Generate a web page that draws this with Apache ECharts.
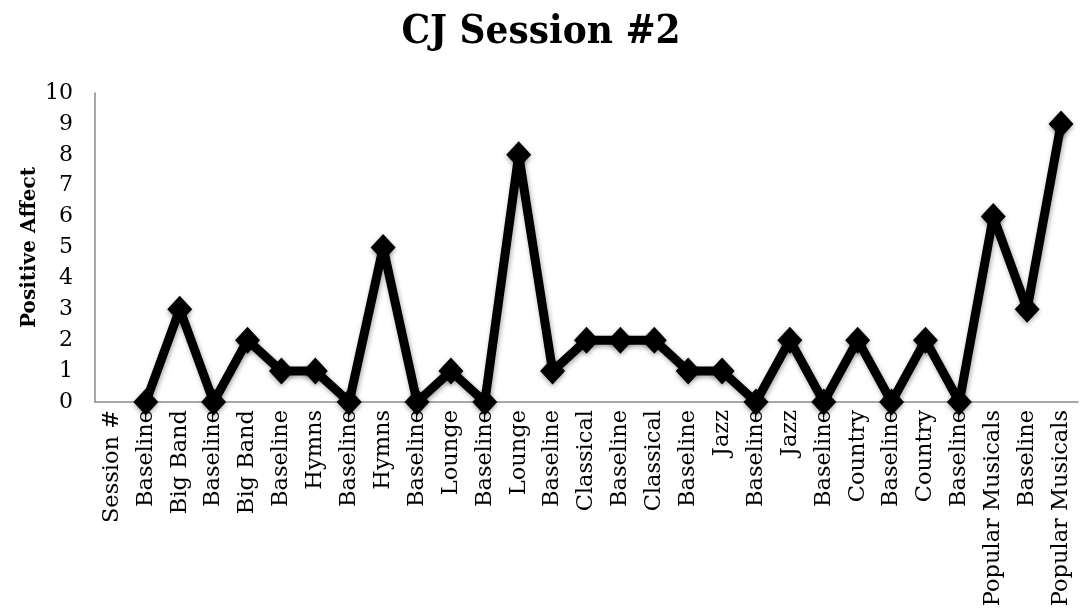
<!DOCTYPE html>
<html><head><meta charset="utf-8">
<script src="https://cdn.jsdelivr.net/npm/echarts@6/dist/echarts.min.js"></script>
<style>html,body{margin:0;padding:0;background:#fff}#c{width:1082px;height:615px}</style>
</head><body><div id="c"></div>
<script>
const titleText = "CJ Session #2";
const yAxisName = "Positive Affect";
const categories = ["Session #","Baseline","Big Band","Baseline","Big Band","Baseline","Hymns","Baseline","Hymns","Baseline","Lounge","Baseline","Lounge","Baseline","Classical","Baseline","Classical","Baseline","Jazz","Baseline","Jazz","Baseline","Country","Baseline","Country","Baseline","Popular Musicals","Baseline","Popular Musicals"];
const values = [null,0,3,0,2,1,1,0,5,0,1,0,8,1,2,2,2,1,1,0,2,0,2,0,2,0,6,3,9];

const chart = echarts.init(document.getElementById('c'));
const serif = "DejaVu Serif";
chart.setOption({
  animation:false,
  title:{text:titleText,left:'center',top:8,textStyle:{fontFamily:"'DejaVu Serif Condensed', 'DejaVu Serif'",fontWeight:'bold',fontSize:40,color:'#000'}},
  grid:{left:95,right:4,top:93,bottom:213,containLabel:false},
  xAxis:{type:'category',data:categories,boundaryGap:true,
    axisLine:{lineStyle:{color:'#8c8c8c',width:1.5}},axisTick:{show:false},
    axisLabel:{rotate:90,interval:0,fontFamily:serif,fontSize:22.5,color:'#000',margin:8}},
  yAxis:{type:'value',min:0,max:10,interval:1,name:yAxisName,nameLocation:'middle',nameGap:55,nameMoveOverlap:false,
    nameTextStyle:{fontFamily:serif,fontWeight:'bold',fontSize:20,color:'#000'},
    axisLine:{show:true,lineStyle:{color:'#8c8c8c',width:1.5}},axisTick:{show:false},splitLine:{show:false},
    axisLabel:{fontFamily:serif,fontSize:22,color:'#000',margin:22}},
  series:[{type:'line',data:values,symbol:'diamond',symbolSize:[25,27],connectNulls:false,
    lineStyle:{color:'#000',width:9,shadowColor:'rgba(0,0,0,0.35)',shadowBlur:5,shadowOffsetX:1,shadowOffsetY:2},
    itemStyle:{color:'#000',shadowColor:'rgba(0,0,0,0.35)',shadowBlur:5,shadowOffsetY:2}}]
});
</script></body></html>
